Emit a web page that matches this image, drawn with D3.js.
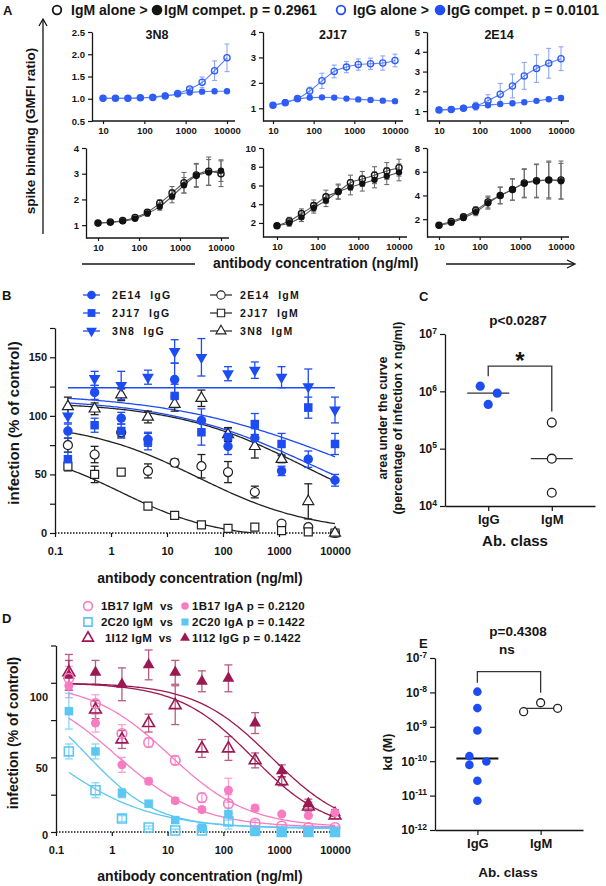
<!DOCTYPE html>
<html><head><meta charset="utf-8">
<script src="https://cdn.jsdelivr.net/npm/d3@7/dist/d3.min.js"></script>
<style>
html,body{margin:0;padding:0;background:#fff;}
svg{display:block;font-family:"Liberation Sans",Arial,Helvetica,sans-serif;font-weight:bold;}
text.pre{white-space:pre;}
</style></head><body>
<svg id="fig" width="606" height="886"></svg>
<script>
// ================= DATA =================
// Panel A: spike binding (GMFI ratio), antibody alone vs competition
const concA = [10,20,40,80,160,320,640,1250,2500,5000,10000];
const antibodiesA = ["3N8","2J17","2E14"];
const a3N8IgGAlone = [1.01,1.01,1.01,1.02,1.03,1.06,1.12,1.22,1.37,1.63,1.92];
const a3N8IgGAloneErr = [0.01,0.01,0.01,0.01,0.02,0.02,0.03,0.04,0.12,0.22,0.31];
const a3N8IgGComp = [1.01,1.01,1.01,1.02,1.04,1.07,1.10,1.14,1.16,1.17,1.17];
const a3N8IgGCompErr = [0.01,0.01,0.01,0.01,0.01,0.01,0.02,0.01,0.01,0.01,0.01];
const a2J17IgGAlone = [1.12,1.22,1.38,1.68,2.08,2.45,2.62,2.72,2.75,2.78,2.88];
const a2J17IgGAloneErr = [0.04,0.05,0.08,0.15,0.30,0.25,0.22,0.22,0.22,0.28,0.25];
const a2J17IgGComp = [1.12,1.24,1.36,1.42,1.43,1.42,1.38,1.35,1.33,1.30,1.28];
const a2J17IgGCompErr = [0.03,0.04,0.06,0.06,0.05,0.08,0.07,0.06,0.06,0.07,0.06];
const a2E14IgGAlone = [1.05,1.08,1.15,1.25,1.53,1.85,2.27,2.78,3.15,3.42,3.65];
const a2E14IgGAloneErr = [0.03,0.04,0.05,0.20,0.30,0.55,0.60,0.68,0.70,0.75,0.60];
const a2E14IgGComp = [1.07,1.10,1.16,1.25,1.30,1.36,1.40,1.45,1.52,1.60,1.66];
const a2E14IgGCompErr = [0.03,0.03,0.04,0.10,0.06,0.05,0.05,0.05,0.05,0.06,0.12];
const a3N8IgMAlone = [1.08,1.12,1.18,1.30,1.50,1.85,2.25,2.65,2.95,3.10,3.00];
const a3N8IgMAloneErr = [0.03,0.04,0.05,0.06,0.10,0.14,0.25,0.40,0.45,0.55,0.50];
const a3N8IgMComp = [1.07,1.10,1.15,1.25,1.45,1.72,2.12,2.55,2.92,3.05,3.12];
const a3N8IgMCompErr = [0.03,0.04,0.05,0.06,0.10,0.14,0.25,0.30,0.45,0.50,0.42];
const a2J17IgMAlone = [1.70,2.20,3.00,3.85,4.80,5.35,6.30,6.70,7.10,7.55,7.90];
const a2J17IgMAloneErr = [0.20,0.40,0.50,0.60,0.70,0.80,0.80,0.80,0.90,0.90,0.90];
const a2J17IgMComp = [1.70,2.00,2.60,3.60,4.40,5.30,5.80,6.20,6.60,7.00,7.40];
const a2J17IgMCompErr = [0.20,0.35,0.45,0.55,0.65,0.75,0.80,0.80,0.85,0.90,0.90];
const a2E14IgMAlone = [1.50,1.80,2.20,2.75,3.45,4.00,4.50,5.05,5.25,5.30,5.30];
const a2E14IgMAloneErr = [0.10,0.15,0.20,0.30,0.50,0.70,0.90,1.20,1.40,1.60,1.60];
const a2E14IgMComp = [1.50,1.70,2.10,2.60,3.35,4.00,4.50,5.00,5.20,5.30,5.20];
const a2E14IgMCompErr = [0.10,0.15,0.20,0.30,0.50,0.70,0.90,1.20,1.40,1.50,1.50];
const legendA = ["IgM alone >","IgM compet. p = 0.2961","IgG alone >","IgG compet. p = 0.0101"];

// Panel B: infection (% of control)
const concB = [0.17,0.51,1.52,4.57,13.7,41.2,123,370,1111,3333,10000];
const b2E14IgG = [87,120,98,80,131,96,74,81,53,63,45];
const b2E14IgGErr = [6,6,5,6,14,10,7,8,4,7,5];
const b2J17IgG = [63,92,87,78,117,86,82,93,76,107,76];
const b2J17IgGErr = [6,6,6,7,10,11,7,9,9,9,9];
const b3N8IgG = [100,132,126,133,155,150,136,139,133,125,105];
const b3N8IgGErr = [6,6,12,6,10,16,6,7,9,15,11];
const b2E14IgM = [75,67,86,53,60,57,52,35,8,5,0];
const b2E14IgMErr = [6,7,4,6,3,10,9,5,2,2,0];
const b2J17IgM = [57,50,52,23,15,7,4,5,2,1,0];
const b2J17IgMErr = [4,7,2,2,1,1,1,1,1,1,0];
const b3N8IgM = [108,106,118,99,110,115,84,74,63,27,0];
const b3N8IgMErr = [8,5,5,5,6,7,6,10,3,15,0];
// fitted curves [top, bottom, logIC50, hill]
const fitB2E14IgG = [115,0,3.61,0.33];
const fitB2J17IgG = [120,0,4.27,0.27];
const fitB3N8IgG = [124,124,0,1];
const fitB2E14IgM = [95,0,1.55,0.423];
const fitB2J17IgM = [75,-5,0.17,0.5];
const fitB3N8IgM = [112,0,3.49,0.367];
const legendBIgG = ["2E14  IgG","2J17  IgG","3N8  IgG"];
const legendBIgM = ["2E14  IgM","2J17  IgM","3N8  IgM"];

// Panel C: area under the curve
const classes = ["IgG","IgM"];
const cIgG = [1.23e6,0.93e6,0.59e6];
const cIgM = [2.85e5,6.7e4,1.7e4];
const cMedian = [9.3e5,6.7e4];
const cTitle = "p<0.0287";

// Panel D: infection (% of control)
const concD = [0.17,0.51,1.52,4.57,13.7,41.2,123,370,1111,3333,10000];
const d1B17IgM = [103,86,66,60,48,23,19,6,4,3,3];
const d1B17IgMErr = [8,6,6,3,3,3,6,2,1,1,1];
const d1B17IgA = [98,73,45,34,21,15,28,16,12,11,13];
const d1B17IgAErr = [8,6,5,2,2,2,8,2,1,1,1];
const d2C20IgM = [54,28,9,3,1,1,7,1,0,0,0];
const d2C20IgMErr = [5,5,2,1,1,1,5,1,0,0,0];
const d2C20IgA = [81,54,26,19,8,3,12,0,0,0,0];
const d2C20IgAErr = [12,5,3,2,2,1,4,1,0,0,0];
const d1I12IgM = [107,82,62,73,85,56,56,48,34,17,11];
const d1I12IgMErr = [12,6,6,6,13,6,8,5,3,3,2];
const d1I12IgG = [105,107,99,112,107,101,103,73,41,19,13];
const d1I12IgGErr = [10,8,11,10,8,7,9,7,4,3,2];
const fitD1B17IgM = [100,3,1.038,0.613];
const fitD1B17IgA = [100,3,0.078,0.578];
const fitD2C20IgM = [100,2,-1.187,0.475];
const fitD2C20IgA = [100,3,-0.44,0.696];
const fitD1I12IgM = [100,0,2.525,0.647];
const fitD1I12IgG = [100,0,2.86,0.633];
const legendDLeft = ["1B17 IgM  vs","2C20 IgM  vs","1I12 IgM  vs"];
const legendDRight = ["1B17 IgA p = 0.2120","2C20 IgA p = 0.1422","1I12 IgG p = 0.1422"];

// Panel E: kd (M)
const eIgG = [1.05e-8,3.5e-9,7.8e-10,1.4e-10,7.8e-11,9.8e-11,2.7e-11,7.1e-12];
const eIgM = [2.75e-9,5.0e-9,3.45e-9];
const eMedian = [1.19e-10,3.45e-9];
const eTitle = "p=0.4308";

// ================= HELPERS =================
const FONT = '"Liberation Sans", Arial, Helvetica, sans-serif';
const svg = d3.select("#fig");
const INK = "#151515";

function styleAxis(g, fs){
  g.attr("font-family",FONT).attr("font-size",fs).attr("font-weight","bold");
  g.selectAll(".domain").attr("stroke",INK).attr("stroke-width",1.3);
  g.selectAll(".tick line").attr("stroke",INK).attr("stroke-width",1.2);
  g.selectAll(".tick text").attr("fill",INK);
  return g;
}
function txt(x,y,s,fs,o={}){
  const t = svg.append("text").attr("x",x).attr("y",y).attr("font-size",fs)
    .attr("font-family",FONT).attr("font-weight","bold").attr("fill",o.fill||INK).text(s);
  if(o.anchor) t.attr("text-anchor",o.anchor);
  if(o.rotate) t.attr("transform",`rotate(-90 ${x} ${y})`);
  if(o.ls) t.attr("letter-spacing",o.ls);
  if(o.pre) t.attr("class","pre");
  return t;
}
function sym(g,type,cx,cy,size,fill,stroke,sw,rot){
  return g.append("path").attr("d",d3.symbol().type(type).size(size)())
    .attr("transform",`translate(${cx},${cy})${rot?" rotate(180)":""}`)
    .attr("fill",fill).attr("stroke",stroke||"none").attr("stroke-width",sw||0);
}
function errBars(g,xs,vs,es,x,y,col,cap,sw,ymin){
  xs.forEach((xv,i)=>{
    if(!es[i]) return;
    const px = x(xv);
    const lo = Math.max(vs[i]-es[i], ymin), hi = vs[i]+es[i];
    g.append("line").attr("x1",px).attr("x2",px).attr("y1",y(lo)).attr("y2",y(hi)).attr("stroke",col).attr("stroke-width",sw);
    [lo,hi].forEach(v=>{ if(v===ymin && vs[i]-es[i]<ymin) return;
      g.append("line").attr("x1",px-cap).attr("x2",px+cap).attr("y1",y(v)).attr("y2",y(v)).attr("stroke",col).attr("stroke-width",sw);});
  });
}
function logistic(p,x){ return p[1]+(p[0]-p[1])/(1+Math.pow(10,(Math.log10(x)-p[2])*p[3])); }
function fitPoints(p,xmin,xmax){
  const n=150, a=Math.log10(xmin), b=Math.log10(xmax);
  return d3.range(n+1).map(i=>{const xv=Math.pow(10,a+(b-a)*i/n); return [xv,logistic(p,xv)];});
}
function superscriptTicks(g){
  g.selectAll(".tick text").each(function(d){
    const t=d3.select(this); const e=Math.round(Math.log10(d));
    t.text(null);
    t.append("tspan").text("10");
    t.append("tspan").attr("dy","-0.55em").attr("font-size","8.5px").text(e);
  });
}

// ================= PANEL A =================
const BLUE_A = "#2d5cf6", BLUE_A_ERR = "#8ea7fa", GREY_ERR = "#6d6d6d";
const aLayouts = [
  {ax:92,  xr:[103,227], yr:[121,32], dom:[0.5,2.5], ticks:[0.5,1,1.5,2,2.5], fmt:d3.format(".1f")},
  {ax:263, xr:[273,395], yr:[121,32], dom:[0.5,4],   ticks:[1,2,3,4],         fmt:d3.format("d")},
  {ax:427, xr:[439,561], yr:[121,32], dom:[0.5,5],   ticks:[1,2,3,4,5],       fmt:d3.format("d")},
  {ax:86,  xr:[98,221],  yr:[238,148],dom:[0.5,4],   ticks:[1,2,3,4],         fmt:d3.format("d")},
  {ax:263, xr:[277,399], yr:[237,148],dom:[0.5,10],  ticks:[2,4,6,8,10],      fmt:d3.format("d")},
  {ax:427, xr:[439,561], yr:[237,148],dom:[0.5,8],   ticks:[2,4,6,8],         fmt:d3.format("d")}
];
const aSeries = [
  [a3N8IgGAlone,a3N8IgGAloneErr,a3N8IgGComp,a3N8IgGCompErr],
  [a2J17IgGAlone,a2J17IgGAloneErr,a2J17IgGComp,a2J17IgGCompErr],
  [a2E14IgGAlone,a2E14IgGAloneErr,a2E14IgGComp,a2E14IgGCompErr],
  [a3N8IgMAlone,a3N8IgMAloneErr,a3N8IgMComp,a3N8IgMCompErr],
  [a2J17IgMAlone,a2J17IgMAloneErr,a2J17IgMComp,a2J17IgMCompErr],
  [a2E14IgMAlone,a2E14IgMAloneErr,a2E14IgMComp,a2E14IgMCompErr]
];
aLayouts.forEach((L,k)=>{
  const top = k<3;
  const col = top?BLUE_A:"#111", ecol = top?BLUE_A_ERR:GREY_ERR, lcol = top?"#5a80f8":"#555";
  const x = d3.scaleLog().domain([10,10000]).range(L.xr);
  const y = d3.scaleLinear().domain(L.dom).range(L.yr);
  const g = svg.append("g");
  styleAxis(g.append("g").attr("transform",`translate(${L.ax},0)`)
    .call(d3.axisLeft(y).tickValues(L.ticks).tickFormat(L.fmt).tickSize(4).tickSizeOuter(0).tickPadding(3)),9.5);
  const xa = styleAxis(g.append("g").attr("transform",`translate(0,${L.yr[0]})`)
    .call(d3.axisBottom(x).tickValues([10,100,1000,10000]).tickFormat(d3.format("d")).tickSize(3).tickSizeOuter(0).tickPadding(3)),9.5);
  xa.select(".domain").remove();
  g.append("line").attr("x1",L.ax).attr("x2",L.xr[1]+8).attr("y1",L.yr[0]).attr("y2",L.yr[0]).attr("stroke",INK).attr("stroke-width",1.3);
  const [al,ae,cp,ce] = aSeries[k];
  errBars(g,concA,al,ae,x,y,ecol,2.5,1.1,-99);
  errBars(g,concA,cp,ce,x,y,ecol,2.5,1.1,-99);
  const line = d3.line().x(d=>x(d[0])).y(d=>y(d[1])).curve(d3.curveMonotoneX);
  g.append("path").attr("d",line(concA.map((c,i)=>[c,al[i]]))).attr("fill","none").attr("stroke",lcol).attr("stroke-width",1.1);
  g.append("path").attr("d",line(concA.map((c,i)=>[c,cp[i]]))).attr("fill","none").attr("stroke",lcol).attr("stroke-width",1.1);
  concA.forEach((c,i)=>{
    g.append("circle").attr("cx",x(c)).attr("cy",y(cp[i])).attr("r",3.2).attr("fill",col);
    g.append("circle").attr("cx",x(c)).attr("cy",y(al[i])).attr("r",3.1).attr("fill","none").attr("stroke",col).attr("stroke-width",1.3);
  });
  if(top) txt((L.xr[0]+L.xr[1])/2+(k===0?-8:-1),39,antibodiesA[k],12.5,{anchor:"middle"});
});
// legend A
svg.append("circle").attr("cx",57).attr("cy",10).attr("r",4.3).attr("fill","none").attr("stroke",INK).attr("stroke-width",1.8);
txt(71,15,legendA[0],14);
svg.append("circle").attr("cx",157).attr("cy",10).attr("r",5.3).attr("fill",INK);
txt(164,15,legendA[1],14);
svg.append("circle").attr("cx",341).attr("cy",10).attr("r",4.3).attr("fill","none").attr("stroke","#1f4ff5").attr("stroke-width",1.8);
txt(353,15,legendA[2],14);
svg.append("circle").attr("cx",440).attr("cy",10).attr("r",5.3).attr("fill","#1f4ff5");
txt(447,15,legendA[3],14);
// panel label + titles + arrows
txt(3,15,"A",13);
txt(35,131,"spike binding (GMFI ratio)",13.5,{anchor:"middle",rotate:true});
svg.append("line").attr("x1",43).attr("x2",43).attr("y1",234).attr("y2",20).attr("stroke",INK).attr("stroke-width",1.3);
svg.append("path").attr("d","M39,26 L43,19 L47,26").attr("fill","none").attr("stroke",INK).attr("stroke-width",1.3);
svg.append("line").attr("x1",82).attr("x2",195).attr("y1",264).attr("y2",264).attr("stroke",INK).attr("stroke-width",1.3);
svg.append("line").attr("x1",446).attr("x2",574).attr("y1",264).attr("y2",264).attr("stroke",INK).attr("stroke-width",1.3);
svg.append("path").attr("d","M567,260 L575,264 L567,268").attr("fill","none").attr("stroke",INK).attr("stroke-width",1.3);
txt(213,268,"antibody concentration (ng/ml)",14);

// ================= PANEL B =================
const BLUE_B = "#1e4cf3";
{
  const x = d3.scaleLog().domain([0.1,10000]).range([55,335]);
  const y = d3.scaleLinear().domain([0,175]).range([533,328]);
  const g = svg.append("g");
  styleAxis(g.append("g").attr("transform","translate(55,0)")
    .call(d3.axisLeft(y).tickValues(d3.range(0,176,25)).tickFormat(d=>d%50===0?d:"").tickSize(5).tickSizeOuter(0).tickPadding(3)),11);
  const xa = styleAxis(g.append("g").attr("transform",`translate(0,${y(0)})`)
    .call(d3.axisBottom(x).tickValues([0.1,1,10,100,1000,10000]).tickFormat(d=>d<1?"0.1":d3.format("d")(d)).tickSize(4).tickSizeOuter(0).tickPadding(10)),11);
  xa.select(".domain").remove();
  g.append("line").attr("x1",55).attr("x2",338).attr("y1",y(0)).attr("y2",y(0)).attr("stroke",INK).attr("stroke-width",1.5).attr("stroke-dasharray","1.5,1.5");
  g.append("defs").append("clipPath").attr("id","clipB").append("rect").attr("x",55).attr("y",300).attr("width",300).attr("height",y(0)-300);
  const curve = d3.line().x(d=>x(d[0])).y(d=>y(d[1]));
  const gc = g.append("g").attr("clip-path","url(#clipB)");
  [[fitB2E14IgM,"#222"],[fitB2J17IgM,"#222"],[fitB3N8IgM,"#222"],[fitB2E14IgG,BLUE_B],[fitB2J17IgG,BLUE_B],[fitB3N8IgG,BLUE_B]].forEach(([p,c])=>{
    gc.append("path").attr("d",curve(fitPoints(p,0.17,10000))).attr("fill","none").attr("stroke",c).attr("stroke-width",1.3);
  });
  const igm = [
    {v:b2E14IgM,e:b2E14IgMErr,type:d3.symbolCircle,fill:"#fff",stroke:"#222",col:"#222",size:64,rot:false},
    {v:b2J17IgM,e:b2J17IgMErr,type:d3.symbolSquare,fill:"#fff",stroke:"#222",col:"#222",size:64,rot:false},
    {v:b3N8IgM,e:b3N8IgMErr,type:d3.symbolTriangle,fill:"#fff",stroke:"#222",col:"#222",size:52,rot:false}
  ];
  const igg = [
    {v:b2E14IgG,e:b2E14IgGErr,type:d3.symbolCircle,fill:BLUE_B,stroke:null,col:BLUE_B,size:70,rot:false},
    {v:b2J17IgG,e:b2J17IgGErr,type:d3.symbolSquare,fill:BLUE_B,stroke:null,col:BLUE_B,size:72,rot:false},
    {v:b3N8IgG,e:b3N8IgGErr,type:d3.symbolTriangle,fill:BLUE_B,stroke:null,col:BLUE_B,size:60,rot:true}
  ];
  const series = igm.concat(igg);
  series.forEach(s=>errBars(g,concB,s.v,s.e,x,y,s.col,4,1.3,0));
  series.forEach(s=>concB.forEach((c,i)=>sym(g,s.type,x(c),y(s.v[i]),s.size,s.fill,s.stroke,1.2,s.rot)));
  // legend
  const rows=[295,313,331];
  igg.forEach((s,i)=>{
    const r=rows[i];
    svg.append("line").attr("x1",83).attr("x2",100).attr("y1",r).attr("y2",r).attr("stroke",s.col).attr("stroke-width",1.3);
    sym(svg,s.type,91.5,r,s.size*0.85,s.fill,s.stroke,1.1,s.rot);
    txt(112,r+4,legendBIgG[i],10.5,{ls:"1.3px",pre:true});
  });
  igm.forEach((s,i)=>{
    const r=rows[i];
    svg.append("line").attr("x1",210).attr("x2",232).attr("y1",r).attr("y2",r).attr("stroke",s.col).attr("stroke-width",1.2);
    sym(svg,s.type,221,r,s.size*0.85,s.fill,s.stroke,1.1,s.rot);
    txt(240,r+4,legendBIgM[i],10.5,{ls:"1.3px",pre:true});
  });
  txt(2,300,"B",13);
  txt(19,423,"infection (% of control)",15,{anchor:"middle",rotate:true});
  txt(200,583,"antibody concentration (ng/ml)",14,{anchor:"middle"});
}

// ================= PANEL C =================
{
  const y = d3.scaleLog().domain([1e4,1e7]).range([506,334]);
  const x = d3.scalePoint().domain(classes).range([445,595]).padding(0.68);
  const g = svg.append("g");
  const ya = styleAxis(g.append("g").attr("transform","translate(445,0)")
    .call(d3.axisLeft(y).tickValues([1e4,1e5,1e6,1e7]).tickSize(5).tickSizeOuter(0).tickPadding(3)),12);
  superscriptTicks(ya);
  styleAxis(g.append("g").attr("transform","translate(0,506)")
    .call(d3.axisBottom(x).tickSize(5).tickSizeOuter(0).tickPadding(4)),13);
  const jitter = [-8,9,0];
  const bx0 = x("IgG"), bx1 = x("IgM");
  const lTop = y(d3.max(cIgG))-20;
  g.append("path").attr("d",`M${bx0},${y(d3.max(cIgG))-10}V${lTop}H${bx1}V${y(d3.max(cIgM))-11}`).attr("fill","none").attr("stroke","#333").attr("stroke-width",1.3);
  txt((bx0+bx1)/2,lTop+3,"*",24,{anchor:"middle"});
  cMedian.forEach((m,i)=>{ const cx=x(classes[i]); g.append("line").attr("x1",cx-21).attr("x2",cx+21).attr("y1",y(m)).attr("y2",y(m)).attr("stroke","#333").attr("stroke-width",1.4);});
  cIgG.forEach((v,i)=>g.append("circle").attr("cx",x("IgG")+jitter[i]).attr("cy",y(v)).attr("r",4.6).attr("fill",BLUE_B));
  cIgM.forEach(v=>g.append("circle").attr("cx",x("IgM")).attr("cy",y(v)).attr("r",4.4).attr("fill","#fff").attr("stroke","#222").attr("stroke-width",1.3));
  txt(518,325,cTitle,13.5,{anchor:"middle"});
  txt(515,546,"Ab. class",15,{anchor:"middle"});
  txt(387,418,"area under the curve",12.5,{anchor:"middle",rotate:true});
  txt(402,418,"(percentage of infection x ng/ml)",12.5,{anchor:"middle",rotate:true});
  txt(419,301,"C",13);
}

// ================= PANEL D =================
const PINK = "#f77cc1", LBLUE = "#5bc7f2", DARK = "#9c1852";
{
  const x = d3.scaleLog().domain([0.1,10000]).range([56,335]);
  const y = d3.scaleLinear().domain([0,125]).range([832,645.5]);
  const g = svg.append("g");
  const labelShift = {0:3,50:11,100:14};
  const ya = styleAxis(g.append("g").attr("transform","translate(56,0)")
    .call(d3.axisLeft(y).tickValues(d3.range(0,126,25)).tickFormat(d=>d%50===0?d:"").tickSize(5).tickSizeOuter(0).tickPadding(3)),11);
  ya.selectAll(".tick text").attr("transform",d=>`translate(0,${labelShift[d]||0})`);
  const xa = styleAxis(g.append("g").attr("transform",`translate(0,${y(0)})`)
    .call(d3.axisBottom(x).tickValues([0.1,1,10,100,1000,10000]).tickFormat(d=>d<1?"0.1":d3.format("d")(d)).tickSize(4).tickSizeOuter(0).tickPadding(10)),11);
  xa.select(".domain").remove();
  g.append("line").attr("x1",56).attr("x2",338).attr("y1",y(0)).attr("y2",y(0)).attr("stroke",INK).attr("stroke-width",1.5).attr("stroke-dasharray","1.5,1.5");
  const curve = d3.line().x(d=>x(d[0])).y(d=>y(d[1]));
  [[fitD1I12IgG,DARK],[fitD1I12IgM,DARK],[fitD1B17IgM,PINK],[fitD1B17IgA,PINK],[fitD2C20IgA,LBLUE],[fitD2C20IgM,LBLUE]].forEach(([p,c])=>{
    g.append("path").attr("d",curve(fitPoints(p,0.17,10000))).attr("fill","none").attr("stroke",c).attr("stroke-width",1.3);
  });
  const series = [
    {v:d1I12IgG,e:d1I12IgGErr,type:d3.symbolTriangle,col:DARK,filled:true,size:60},
    {v:d1I12IgM,e:d1I12IgMErr,type:d3.symbolTriangle,col:DARK,filled:false,size:60},
    {v:d1B17IgA,e:d1B17IgAErr,type:d3.symbolCircle,col:PINK,filled:true,size:64},
    {v:d1B17IgM,e:d1B17IgMErr,type:d3.symbolCircle,col:PINK,filled:false,size:72},
    {v:d2C20IgA,e:d2C20IgAErr,type:d3.symbolSquare,col:LBLUE,filled:true,size:72},
    {v:d2C20IgM,e:d2C20IgMErr,type:d3.symbolSquare,col:LBLUE,filled:false,size:80}
  ];
  series.forEach(s=>{ const eg=g.append("g").attr("opacity",0.7); errBars(eg,concD,s.v,s.e,x,y,s.col,4,1.3,0); });
  series.forEach(s=>concD.forEach((c,i)=>sym(g,s.type,x(c),y(s.v[i]),s.size,s.filled?s.col:"none",s.filled?null:s.col,1.6,false)));
  // legend
  const rows=[606,622,638];
  const legSeries=[[series[3],series[2]],[series[5],series[4]],[series[1],series[0]]];
  legSeries.forEach((pair,i)=>{
    sym(svg,pair[0].type,88,rows[i],pair[0].size*0.85,"none",pair[0].col,1.6,false);
    txt(i===2?105:101,rows[i]+4,legendDLeft[i],11.5,{ls:"0.2px",pre:true});
    sym(svg,pair[1].type,185,rows[i],pair[1].size*0.7,pair[1].col,null,0,false);
    txt(192,rows[i]+4,legendDRight[i],11.5,{ls:"0.3px"});
  });
  txt(2,623,"D",13);
  txt(18,733,"infection (% of control)",14,{anchor:"middle",rotate:true});
  txt(200,881,"antibody concentration (ng/ml)",14,{anchor:"middle"});
}

// ================= PANEL E =================
{
  const y = d3.scaleLog().domain([1e-12,1e-7]).range([830,658]);
  const x = d3.scalePoint().domain(classes).range([435,583]).padding(0.67);
  const g = svg.append("g");
  const ya = styleAxis(g.append("g").attr("transform","translate(435,0)")
    .call(d3.axisLeft(y).tickValues([1e-12,1e-11,1e-10,1e-9,1e-8,1e-7]).tickSize(5).tickSizeOuter(0).tickPadding(3)),12);
  superscriptTicks(ya);
  styleAxis(g.append("g").attr("transform","translate(0,830)")
    .call(d3.axisBottom(x).tickSize(5).tickSizeOuter(0).tickPadding(4)),13);
  const jitG = [0,0,0,-8,-8,9,0,0], jitM = [-17,0,17];
  const bx0 = x("IgG"), bx1 = x("IgM");
  const top = y(d3.max(eIgG))-20;
  g.append("path").attr("d",`M${bx0},${y(d3.max(eIgG))-9}V${top}H${bx1}V${y(d3.max(eIgM))-10}`).attr("fill","none").attr("stroke","#333").attr("stroke-width",1.3);
  g.append("line").attr("x1",bx0-21).attr("x2",bx0+21).attr("y1",y(eMedian[0])).attr("y2",y(eMedian[0])).attr("stroke","#111").attr("stroke-width",2);
  g.append("line").attr("x1",bx1-17).attr("x2",bx1+17).attr("y1",y(eMedian[1])).attr("y2",y(eMedian[1])).attr("stroke","#333").attr("stroke-width",1.2);
  eIgG.forEach((v,i)=>g.append("circle").attr("cx",bx0+jitG[i]).attr("cy",y(v)).attr("r",4.3).attr("fill",BLUE_B));
  eIgM.forEach((v,i)=>g.append("circle").attr("cx",bx1+jitM[i]).attr("cy",y(v)).attr("r",4).attr("fill","#fff").attr("stroke","#222").attr("stroke-width",1.3));
  txt(518,636,eTitle,13.5,{anchor:"middle"});
  txt(507,654,"ns",13.5,{anchor:"middle"});
  txt(508,877,"Ab. class",13.5,{anchor:"middle"});
  txt(392,752,"kd (M)",12.5,{anchor:"middle",rotate:true});
  txt(419,648,"E",13);
}
</script>
</body></html>
